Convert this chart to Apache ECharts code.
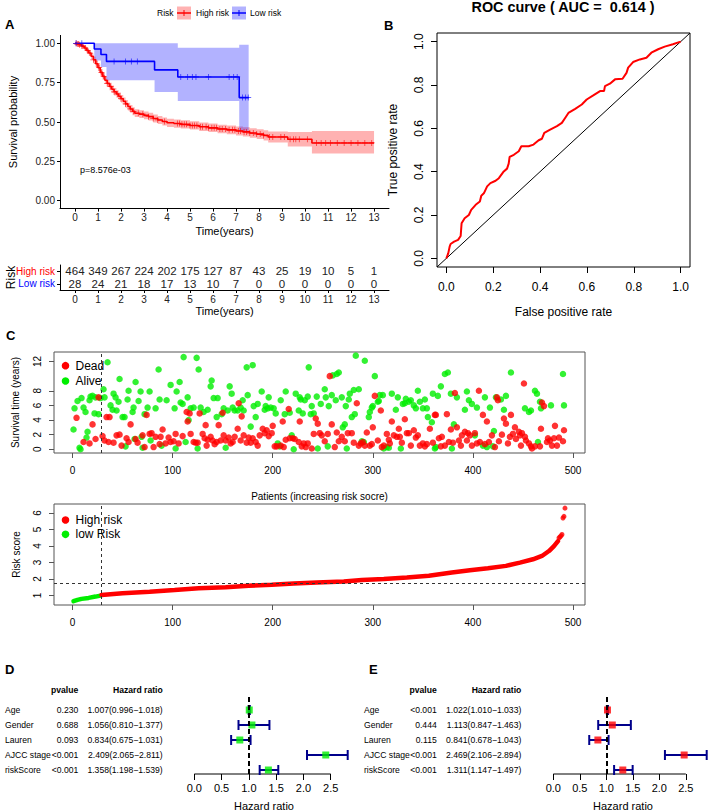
<!DOCTYPE html>
<html><head><meta charset="utf-8">
<script src="https://cdn.jsdelivr.net/npm/echarts@6/dist/echarts.min.js"></script>
<style>html,body{margin:0;padding:0;background:#fff}#c{width:709px;height:810px}</style>
</head><body><div id="c"></div>
<script>
// ---------- Panel A: Kaplan-Meier ----------
const kmYears = [0,1,2,3,4,5,6,7,8,9,10,11,12,13];
const survTicks = [0,0.25,0.5,0.75,1];
const riskGroups = ['Low risk','High risk'];
const highRiskAtRisk = [464,349,267,224,202,175,127,87,43,25,19,10,5,1];
const lowRiskAtRisk = [28,24,21,18,17,13,10,7,0,0,0,0,0,0];
const redT = [0,0.1,0.2,0.3,0.4,0.5,0.6,0.7,0.8,0.9,1.0,1.1,1.2,1.3,1.4,1.5,1.6,1.7,1.8,1.9,2.0,2.1,2.2,2.3,2.4,2.5,2.6,2.8,3.0,3.2,3.4,3.6,3.8,4.0,4.3,4.6,5.0,5.4,5.8,6.2,6.6,7.0,7.3,7.6,7.9,8.2,8.4,9.25,10.3];
const redS = [1.0,0.995,0.99,0.982,0.97,0.955,0.938,0.918,0.895,0.87,0.845,0.815,0.79,0.765,0.745,0.725,0.708,0.692,0.678,0.663,0.648,0.632,0.615,0.598,0.583,0.568,0.556,0.55,0.542,0.534,0.522,0.513,0.503,0.495,0.49,0.485,0.478,0.47,0.463,0.456,0.45,0.443,0.437,0.43,0.423,0.415,0.405,0.39,0.367];
const redUp = [1.0,1.0,0.998,0.993,0.983,0.97,0.954,0.936,0.914,0.89,0.866,0.837,0.812,0.788,0.768,0.749,0.732,0.716,0.702,0.687,0.672,0.656,0.64,0.623,0.608,0.593,0.581,0.575,0.567,0.559,0.547,0.538,0.529,0.521,0.516,0.511,0.504,0.497,0.49,0.483,0.478,0.471,0.466,0.46,0.454,0.448,0.44,0.436,0.443];
const redLo = [1.0,0.988,0.981,0.971,0.957,0.94,0.922,0.9,0.876,0.85,0.824,0.793,0.768,0.742,0.722,0.701,0.684,0.668,0.654,0.639,0.624,0.608,0.59,0.573,0.558,0.543,0.531,0.525,0.517,0.509,0.497,0.488,0.477,0.469,0.464,0.459,0.452,0.443,0.436,0.429,0.422,0.415,0.408,0.4,0.392,0.382,0.37,0.345,0.3];
const redEnd = 13;
const redCensor = [0.05,0.1,0.15,0.2,0.3,0.35,0.45,0.55,0.65,0.8,0.95,1.05,1.15,1.25,1.4,1.55,1.7,1.85,2.0,2.2,2.4,2.55,2.75,2.95,3.2,3.4,3.6,3.9,4.45,4.55,4.65,4.75,4.85,5.0,5.1,5.2,5.3,5.45,5.55,5.7,5.8,5.95,6.05,6.15,6.3,6.4,6.55,6.7,6.85,6.95,7.1,7.2,7.35,7.45,7.6,7.75,7.9,8.05,8.2,8.45,8.6,8.95,9.1,9.35,9.5,9.6,9.75,10.1,10.5,10.7,10.9,11.1,11.4,11.7,12.0,12.3,12.6,12.9];
const blueT = [0,0.84,1.13,1.37,3.46,4.47,7.14];
const blueS = [1.0,0.964,0.929,0.885,0.831,0.786,0.655];
const blueUp = [1.0,1.0,1.0,1.0,1.0,0.972,0.99];
const blueLo = [1.0,0.89,0.85,0.765,0.69,0.633,0.445];
const blueEnd = 7.55;
const blueCensor = [0.05,0.3,1.7,2.2,2.45,2.71,4.6,4.9,5.1,5.26,5.8,6.7,6.9,7.05,7.28,7.42,7.53];

// ---------- Panel B: ROC ----------
const rocTicks = [0,0.2,0.4,0.6,0.8,1.0];
const rocFPR = [0,0.008,0.014,0.018,0.033,0.05,0.061,0.065,0.078,0.096,0.106,0.125,0.143,0.149,0.16,0.174,0.188,0.21,0.224,0.245,0.259,0.266,0.27,0.288,0.309,0.32,0.351,0.372,0.394,0.408,0.418,0.443,0.472,0.493,0.507,0.521,0.55,0.578,0.599,0.627,0.656,0.673,0.677,0.698,0.72,0.752,0.769,0.776,0.797,0.826,0.854,0.875,0.904,0.932,0.967,1.0];
const rocTPR = [0,0.023,0.054,0.066,0.077,0.085,0.103,0.162,0.185,0.2,0.224,0.247,0.262,0.289,0.3,0.332,0.347,0.358,0.37,0.401,0.414,0.437,0.468,0.478,0.494,0.517,0.517,0.525,0.545,0.552,0.579,0.594,0.61,0.625,0.648,0.671,0.69,0.71,0.733,0.752,0.772,0.772,0.795,0.806,0.826,0.829,0.856,0.88,0.906,0.918,0.926,0.949,0.965,0.977,0.988,1.0];
const aucText = 'ROC curve ( AUC =  0.614 )';

// ---------- Panel C ----------
const patientTicks = [0,100,200,300,400,500];
const survTimeTicks = [0,2,4,6,8,12];
const riskScoreTicks = [1,2,3,4,5,6];
const lowHighCut = 28.5;
const riskCutoff = 1.76;
const deadPoints = [[4,4.3],[11,1.0],[17,0.8],[20,3.4],[23,1.4],[26,7.1],[30,1.8],[32,1.2],[34,4.4],[36,1.0],[37,4.4],[41,0.9],[44,1.9],[47,2.0],[49,0.5],[54,1.5],[56,1.0],[58,3.4],[63,1.4],[65,0.9],[70,1.9],[72,0.3],[74,4.7],[77,2.1],[79,2.2],[81,0.3],[83,1.7],[87,0.7],[88,1.7],[90,2.7],[93,0.8],[96,1.6],[98,1.0],[101,1.1],[103,2.1],[106,0.8],[110,1.8],[114,5.1],[115,3.8],[117,4.9],[118,2.1],[121,1.0],[123,0.9],[125,0.9],[127,4.9],[130,2.1],[132,1.5],[133,3.3],[134,0.5],[135,1.3],[138,1.7],[140,1.2],[142,0.7],[144,1.0],[146,3.3],[148,1.2],[150,5.0],[151,1.9],[153,1.2],[156,1.6],[158,0.8],[160,1.0],[162,1.7],[165,2.8],[166,6.3],[168,1.2],[169,4.5],[171,1.9],[174,0.9],[176,1.6],[178,0.9],[180,1.5],[183,1.0],[185,0.5],[187,1.9],[190,2.8],[192,2.2],[194,2.6],[196,1.8],[199,2.2],[200,3.2],[202,0.4],[204,0.4],[208,0.5],[210,3.8],[211,0.3],[213,1.3],[216,5.5],[217,1.5],[220,1.5],[222,1.4],[226,1.0],[227,3.8],[229,0.4],[231,0.8],[233,0.3],[235,0.8],[239,0.1],[241,2.1],[243,4.2],[245,3.5],[247,2.2],[249,1.9],[252,1.1],[255,2.1],[257,10.0],[259,3.4],[262,0.3],[264,2.3],[266,1.1],[269,1.7],[272,1.1],[275,2.2],[279,2.2],[281,0.9],[284,6.3],[286,0.5],[288,0.8],[290,1.0],[292,0.5],[294,2.3],[297,0.5],[299,0.7],[300,3.0],[302,7.3],[305,1.2],[308,5.3],[309,0.3],[311,0.5],[314,2.1],[316,1.3],[317,0.8],[319,3.8],[321,1.9],[324,1.7],[326,2.8],[327,1.7],[329,0.9],[332,4.1],[334,2.2],[336,2.2],[338,0.5],[341,2.6],[343,1.6],[345,1.9],[347,0.5],[350,0.8],[352,0.4],[354,0.7],[357,2.8],[360,0.9],[362,4.7],[363,4.7],[366,1.5],[368,0.4],[369,1.7],[372,0.5],[374,4.8],[376,1.0],[378,2.7],[380,0.9],[382,7.7],[384,3.0],[386,1.2],[388,0.5],[389,1.9],[392,2.4],[394,1.2],[395,2.2],[397,1.9],[399,0.5],[402,2.2],[404,0.8],[406,8.0],[407,1.0],[410,4.7],[412,0.7],[414,3.8],[416,1.0],[419,1.9],[422,0.3],[424,7.1],[425,6.7],[426,1.1],[429,2.0],[431,4.2],[433,3.5],[435,0.8],[437,1.7],[438,4.7],[440,2.1],[442,3.0],[443,1.4],[446,2.4],[447,1.9],[448,0.5],[449,2.2],[451,9.0],[452,1.7],[453,1.2],[456,0.8],[458,0.4],[459,0.1],[462,0.4],[467,0.4],[468,2.8],[469,6.4],[471,5.9],[474,1.0],[475,1.5],[477,1.2],[479,0.5],[481,1.5],[482,3.2],[484,0.5],[486,1.6],[490,1.1],[491,2.6]];
const alivePoints = [[1,2.7],[2,5.6],[5,6.6],[7,0.2],[8,0],[9,7.0],[11,5.7],[13,5.1],[14,1.6],[15,2.4],[17,6.7],[18,7.2],[20,7.3],[22,4.9],[23,7.1],[26,4.8],[28,7.0],[31,8.2],[32,7.1],[35,11.9],[38,6.0],[40,5.4],[41,7.6],[43,7.1],[44,5.3],[46,6.5],[47,9.6],[50,4.4],[52,4.4],[53,0.4],[55,6.8],[56,8.0],[60,5.1],[61,5.7],[62,1.4],[63,9.2],[66,6.6],[68,7.9],[69,1.7],[70,0.2],[72,4.8],[75,5.7],[77,7.9],[78,1.2],[83,5.6],[86,10.9],[87,6.8],[89,0.5],[94,6.7],[98,8.8],[102,5.6],[103,0.1],[104,7.9],[107,9.2],[108,6.4],[110,6.2],[111,12.6],[113,1.0],[115,7.1],[116,4.0],[118,5.6],[121,5.7],[124,12.5],[125,0.1],[126,10.9],[128,5.7],[131,5.1],[135,5.4],[138,8.6],[139,9.4],[141,7.0],[144,4.4],[145,7.0],[149,4.8],[151,5.6],[153,0.2],[155,5.3],[157,8.6],[159,7.6],[160,5.7],[162,5.3],[165,5.3],[168,5.7],[170,6.7],[171,5.3],[174,11.2],[175,7.4],[178,3.1],[180,11.5],[181,5.9],[183,4.4],[185,6.2],[189,7.9],[192,5.4],[193,5.9],[195,5.6],[196,7.1],[198,5.7],[201,5.6],[203,4.9],[205,0.8],[207,0.4],[208,6.7],[212,4.8],[213,7.9],[217,5.0],[219,1.9],[221,0],[223,7.6],[226,5.3],[227,7.1],[228,6.8],[230,4.9],[232,6.7],[235,7.2],[236,11.2],[238,4.8],[239,5.9],[241,4.9],[244,7.2],[245,0.1],[248,6.2],[252,8.2],[253,7.1],[255,0.4],[256,5.9],[259,7.4],[260,10.1],[263,6.7],[264,10.3],[266,10.5],[269,7.1],[270,3.0],[272,3.4],[273,5.9],[274,0.1],[276,6.8],[277,7.6],[279,4.4],[281,8.1],[282,4.8],[283,12.8],[286,8.2],[289,1.1],[291,1.0],[292,12.1],[296,4.4],[297,5.1],[299,5.7],[300,5.9],[302,10.0],[305,6.5],[306,6.6],[307,7.4],[310,7.4],[311,0.1],[314,0.3],[316,0.2],[319,7.6],[323,5.4],[325,7.1],[328,0.1],[330,6.2],[332,6.3],[333,6.9],[336,6.5],[338,6.7],[341,6.0],[343,5.6],[345,8.0],[347,6.5],[350,5.6],[352,6.8],[354,5.6],[355,4.4],[359,3.7],[360,7.6],[362,0.1],[363,0.3],[365,7.3],[368,8.6],[372,10.3],[375,10.5],[378,7.6],[379,0.1],[381,3.4],[384,7.1],[392,5.4],[394,7.9],[396,6.7],[399,6.2],[402,1.9],[404,5.7],[410,0.5],[412,7.1],[414,0.3],[417,5.7],[420,0.4],[421,2.5],[423,7.1],[428,6.8],[431,5.4],[433,7.3],[438,10.5],[452,5.6],[456,5.1],[458,5.3],[462,8.0],[464,7.6],[465,1.0],[467,6.5],[468,5.6],[478,6.0],[490,10.3],[491,6.0]];
const lowRiskScore = [[1,0.66],[5,0.74],[9,0.8],[16,0.86],[23,0.94],[28,1.0]];
const highRiskScore = [[29,1.03],[50,1.14],[77,1.24],[102,1.34],[126,1.44],[153,1.5],[176,1.6],[199,1.66],[221,1.74],[244,1.8],[271,1.86],[289,1.94],[311,2.0],[334,2.1],[356,2.2],[379,2.4],[397,2.54],[415,2.66],[433,2.8],[447,3.0],[460,3.2],[469,3.4],[476,3.7],[481,4.0],[485,4.3]];
const highRiskTop = [[486,4.5],[487,4.55],[488,4.62],[489,4.7],[490,5.7],[491,5.8],[492,6.3]];

// ---------- Panels D / E: forest ----------
const forestVars = ['Age','Gender','Lauren','AJCC stage','riskScore'];
const forestRows = [5,4,3,2,1];
const hrTicks = [0,0.5,1,1.5,2,2.5];
const uniP = ['0.230','0.688','0.093','<0.001','<0.001'];
const uniHR = [1.007,1.056,0.834,2.409,1.358];
const uniLow = [0.996,0.810,0.675,2.065,1.198];
const uniHigh = [1.018,1.377,1.031,2.811,1.539];
const multiP = ['<0.001','0.444','0.115','<0.001','<0.001'];
const multiHR = [1.022,1.113,0.841,2.469,1.311];
const multiLow = [1.010,0.847,0.678,2.106,1.147];
const multiHigh = [1.033,1.463,1.043,2.894,1.497];

// ================= build =================
const FF = "'Liberation Sans', Arial, Helvetica, sans-serif";
const RED = '#FF0000', GREEN = '#00EE00', BLUE = '#0000FF';
const chart = echarts.init(document.getElementById('c'), null, {renderer: 'svg', width: 709, height: 810});

function stepValue(T, S, t) { let v = S[0]; for (let i = 0; i < T.length; i++) if (T[i] <= t) v = S[i]; return v; }
function stepLine(T, S, end) { const d = T.map((t, i) => [t, S[i]]); d.push([end, S[S.length - 1]]); return d; }
function bandSeries(T, lo, hi, end, fill) {
  return {
    type: 'custom', xAxisIndex: 0, yAxisIndex: 0, silent: true, z: 1,
    data: [[0]],
    renderItem: function (params, api) {
      const pts = [];
      for (let i = 0; i < T.length; i++) {
        const t1 = i < T.length - 1 ? T[i + 1] : end;
        pts.push(api.coord([T[i], hi[i]]), api.coord([t1, hi[i]]));
      }
      for (let i = T.length - 1; i >= 0; i--) {
        const t1 = i < T.length - 1 ? T[i + 1] : end;
        pts.push(api.coord([t1, lo[i]]), api.coord([T[i], lo[i]]));
      }
      return {type: 'polygon', shape: {points: pts}, style: {fill: fill}};
    }
  };
}
const PLUS = 'path://M-1,-0.12H1V0.12H-1Z M-0.12,-1H0.12V1H-0.12Z';

function tableText(params, api) {
  const p = api.coord([api.value(0), api.value(1)]);
  return {type: 'text', x: p[0], y: p[1], style: {text: String(api.value(2)), align: 'center', verticalAlign: 'middle',
    fontSize: 11.5, fontFamily: FF, fill: '#222'}};
}
function ciRender(color) {
  return function (params, api) {
    const y = api.value(2);
    const a = api.coord([api.value(0), y]);
    const b = api.coord([api.value(1), y]);
    const st = {stroke: color, lineWidth: 2};
    return {type: 'group', children: [
      {type: 'line', shape: {x1: a[0], y1: a[1], x2: b[0], y2: b[1]}, style: st},
      {type: 'line', shape: {x1: a[0], y1: a[1] - 5, x2: a[0], y2: a[1] + 5}, style: st},
      {type: 'line', shape: {x1: b[0], y1: b[1] - 5, x2: b[0], y2: b[1] + 5}, style: st}
    ]};
  };
}
function axisLineRender(params, api) {
  const a = api.coord([api.value(0), 1]);
  const b = api.coord([api.value(1), 1]);
  const yb = params.coordSys.y + params.coordSys.height;
  return {type: 'line', shape: {x1: a[0], y1: yb, x2: b[0], y2: yb}, style: {stroke: '#000', lineWidth: 1}};
}
function hrText(hr, lo, hi) { return hr.map((h, i) => h.toFixed(3) + '(' + lo[i].toFixed(3) + '\u2212' + hi[i].toFixed(3) + ')'); }

function forestY(gridIndex, leftEdge, nameX, pX, hrX, pvals, hrs) {
  const base = {gridIndex: gridIndex, type: 'value', min: 0.7333, max: 5.8667, position: 'left',
    axisLine: {show: false, onZero: false}, axisTick: {show: false}, splitLine: {show: false}, nameMoveOverlap: false};
  const lab = (arr, align) => ({customValues: forestRows, margin: 0, align: align, fontSize: 8.6, color: '#000', fontFamily: FF,
    formatter: v => arr[forestRows.indexOf(v)]});
  return [
    Object.assign({}, base, {offset: leftEdge - nameX, axisLabel: lab(forestVars, 'left')}),
    Object.assign({}, base, {offset: leftEdge - pX, axisLabel: lab(pvals, 'right'), name: 'pvalue', nameLocation: 'end', nameGap: 3,
      nameTextStyle: {fontSize: 8.6, fontWeight: 'bold', align: 'right', verticalAlign: 'bottom', color: '#000', fontFamily: FF}}),
    Object.assign({}, base, {offset: leftEdge - hrX, axisLabel: lab(hrs, 'right'), name: 'Hazard ratio', nameLocation: 'end', nameGap: 3,
      nameTextStyle: {fontSize: 8.6, fontWeight: 'bold', align: 'right', verticalAlign: 'bottom', color: '#000', fontFamily: FF}})
  ];
}
function forestX(gridIndex, hi) {
  return {gridIndex: gridIndex, type: 'value', min: 0, max: Math.max.apply(null, hi), nameMoveOverlap: false,
    axisLine: {show: false, onZero: false}, splitLine: {show: false},
    axisTick: {show: true, customValues: hrTicks, length: 6, lineStyle: {color: '#000'}},
    axisLabel: {customValues: hrTicks, formatter: v => v.toFixed(1), fontSize: 11, color: '#000', margin: 8, fontFamily: FF},
    name: 'Hazard ratio', nameLocation: 'middle', nameGap: 26, nameTextStyle: {fontSize: 11, color: '#000', fontFamily: FF, padding: [0, 14, 0, 0]}};
}
function forestSeries(xi, yi, lo, hi, hr, color) {
  return [
    {type: 'custom', xAxisIndex: xi, yAxisIndex: yi, silent: true, data: [[0, 2.5]], renderItem: axisLineRender},
    {type: 'custom', xAxisIndex: xi, yAxisIndex: yi, silent: true, z: 3,
      data: forestRows.map((r, i) => [lo[i], hi[i], r]), renderItem: ciRender('#00008B')},
    {type: 'scatter', xAxisIndex: xi, yAxisIndex: yi, silent: true, z: 4, symbol: 'rect', symbolSize: 7,
      itemStyle: {color: color}, data: forestRows.map((r, i) => [hr[i], r]),
      markLine: {silent: true, symbol: ['none', 'none'], label: {show: false}, animation: false,
        lineStyle: {color: '#000', type: [5, 3], width: 2}, data: [{xAxis: 1}]}}
  ];
}
function dotLegend(x, y, color, text) {
  return [
    {type: 'circle', shape: {cx: x, cy: y, r: 3.8}, style: {fill: color}},
    {type: 'text', x: x + 10, y: y, style: {text: text, fontSize: 12, fontFamily: FF, fill: '#000', verticalAlign: 'middle'}}
  ];
}

const baseX = (g, min, max, extra) => Object.assign({gridIndex: g, type: 'value', min: min, max: max, splitLine: {show: false}, nameMoveOverlap: false}, extra);
const noLine = {show: false, onZero: false};
const blackLine = {show: true, onZero: false, lineStyle: {color: '#000'}};

const gridBase = {containLabel: false, outerBoundsMode: 'none'};
const option = {
  animation: false,
  textStyle: {fontFamily: FF},
  grid: [
    Object.assign({left: 60, top: 35.4, width: 329, height: 173.2}, gridBase),
    Object.assign({left: 60, top: 265, width: 329, height: 25}, gridBase),
    Object.assign({left: 437, top: 33, width: 253, height: 234, show: true, borderColor: '#000', borderWidth: 1, backgroundColor: 'transparent'}, gridBase),
    Object.assign({left: 54, top: 352, width: 531, height: 101, show: true, borderColor: '#555', borderWidth: 1, backgroundColor: 'transparent'}, gridBase),
    Object.assign({left: 54, top: 504, width: 531, height: 101, show: true, borderColor: '#555', borderWidth: 1, backgroundColor: 'transparent'}, gridBase),
    Object.assign({left: 194.3, top: 697, width: 153.4, height: 77}, gridBase),
    Object.assign({left: 553.3, top: 697, width: 153.4, height: 77}, gridBase)
  ],
  xAxis: [
    baseX(0, -0.65, 13.65, {axisLine: blackLine,
      axisTick: {show: true, customValues: kmYears, length: 3, lineStyle: {color: '#000'}},
      axisLabel: {customValues: kmYears, fontSize: 10, color: '#222', margin: 4, fontFamily: FF},
      name: 'Time(years)', nameLocation: 'middle', nameGap: 17, nameTextStyle: {fontSize: 11, color: '#000'}}),
    baseX(1, -0.65, 13.65, {axisLine: blackLine,
      axisTick: {show: true, customValues: kmYears, length: 3, lineStyle: {color: '#000'}},
      axisLabel: {customValues: kmYears, fontSize: 10, color: '#222', margin: 4, fontFamily: FF},
      name: 'Time(years)', nameLocation: 'middle', nameGap: 15, nameTextStyle: {fontSize: 11, color: '#000'}}),
    baseX(2, -0.04, 1.04, {axisLine: noLine,
      axisTick: {show: true, customValues: rocTicks, length: 6, lineStyle: {color: '#000'}},
      axisLabel: {customValues: rocTicks, formatter: v => v.toFixed(1), fontSize: 12, color: '#000', margin: 14, fontFamily: FF},
      name: 'False positive rate', nameLocation: 'middle', nameGap: 39, nameTextStyle: {fontSize: 12, color: '#000'}}),
    baseX(3, -18.5, 512, {axisLine: noLine,
      axisTick: {show: true, customValues: patientTicks, length: 5, lineStyle: {color: '#555'}},
      axisLabel: {customValues: patientTicks, fontSize: 10, color: '#000', margin: 12, fontFamily: FF},
      name: 'Patients (increasing risk socre)', nameLocation: 'middle', nameGap: 38, nameTextStyle: {fontSize: 10, color: '#000'}}),
    baseX(4, -18.5, 512, {axisLine: noLine,
      axisTick: {show: true, customValues: patientTicks, length: 5, lineStyle: {color: '#555'}},
      axisLabel: {customValues: patientTicks, fontSize: 10, color: '#000', margin: 12, fontFamily: FF}}),
    forestX(5, uniHigh),
    forestX(6, multiHigh)
  ],
  yAxis: [
    {gridIndex: 0, type: 'value', min: -0.05, max: 1.05, splitLine: {show: false}, nameMoveOverlap: false,
      axisLine: blackLine,
      axisTick: {show: true, customValues: survTicks, length: 3, lineStyle: {color: '#000'}},
      axisLabel: {customValues: survTicks, formatter: v => v.toFixed(2), fontSize: 10, color: '#222', margin: 5, fontFamily: FF},
      name: 'Survival probability', nameLocation: 'middle', nameGap: 42, nameTextStyle: {fontSize: 11, color: '#000'}},
    {gridIndex: 1, type: 'category', nameMoveOverlap: false,
      data: [{value: riskGroups[0], textStyle: {color: BLUE}}, {value: riskGroups[1], textStyle: {color: RED}}],
      axisLine: blackLine, axisTick: {show: true, alignWithLabel: true, interval: 0, length: 3, lineStyle: {color: '#000'}},
      axisLabel: {fontSize: 10, margin: 5, interval: 0, fontFamily: FF, hideOverlap: false},
      name: 'Risk', nameLocation: 'middle', nameGap: 43, nameTextStyle: {fontSize: 12, color: '#000'}},
    {gridIndex: 2, type: 'value', min: -0.04, max: 1.04, splitLine: {show: false}, nameMoveOverlap: false, axisLine: noLine,
      axisTick: {show: true, customValues: rocTicks, length: 6, lineStyle: {color: '#000'}},
      axisLabel: {customValues: rocTicks, formatter: v => v.toFixed(1), rotate: 90, fontSize: 12, color: '#000', margin: 12, fontFamily: FF},
      name: 'True positive rate', nameLocation: 'middle', nameGap: 38, nameTextStyle: {fontSize: 12, color: '#000'}},
    {gridIndex: 3, type: 'value', min: -0.51, max: 13.3, splitLine: {show: false}, nameMoveOverlap: false, axisLine: noLine,
      axisTick: {show: true, customValues: survTimeTicks, length: 5, lineStyle: {color: '#555'}},
      axisLabel: {customValues: survTimeTicks, rotate: 90, fontSize: 10, color: '#000', margin: 12, fontFamily: FF},
      name: 'Survival time (years)', nameLocation: 'middle', nameGap: 34, nameTextStyle: {fontSize: 10, color: '#000'}},
    {gridIndex: 4, type: 'value', min: 0.43, max: 6.55, splitLine: {show: false}, nameMoveOverlap: false, axisLine: noLine,
      axisTick: {show: true, customValues: riskScoreTicks, length: 5, lineStyle: {color: '#555'}},
      axisLabel: {customValues: riskScoreTicks, rotate: 90, fontSize: 10, color: '#000', margin: 12, fontFamily: FF},
      name: 'Risk score', nameLocation: 'middle', nameGap: 33, nameTextStyle: {fontSize: 10, color: '#000'}}
  ].concat(forestY(5, 194.3, 5, 78.3, 162.7, uniP, hrText(uniHR, uniLow, uniHigh)))
   .concat(forestY(6, 553.3, 364, 436.7, 521.3, multiP, hrText(multiHR, multiLow, multiHigh))),
  series: [
    bandSeries(redT, redLo, redUp, redEnd, 'rgba(255,0,0,0.3)'),
    bandSeries(blueT, blueLo, blueUp, blueEnd, 'rgba(0,0,255,0.3)'),
    {type: 'line', name: 'KM high', xAxisIndex: 0, yAxisIndex: 0, step: 'end', showSymbol: false, z: 3,
      lineStyle: {color: RED, width: 1.6}, itemStyle: {color: RED}, data: stepLine(redT, redS, redEnd)},
    {type: 'line', name: 'KM low', xAxisIndex: 0, yAxisIndex: 0, step: 'end', showSymbol: false, z: 3,
      lineStyle: {color: BLUE, width: 1.6}, itemStyle: {color: BLUE}, data: stepLine(blueT, blueS, blueEnd)},
    {type: 'scatter', name: 'KM high censor', xAxisIndex: 0, yAxisIndex: 0, symbol: PLUS, symbolSize: 6, z: 4,
      itemStyle: {color: RED}, data: redCensor.map(t => [t, stepValue(redT, redS, t)])},
    {type: 'scatter', name: 'KM low censor', xAxisIndex: 0, yAxisIndex: 0, symbol: PLUS, symbolSize: 6, z: 4,
      itemStyle: {color: BLUE}, data: blueCensor.map(t => [t, stepValue(blueT, blueS, t)])},
    {type: 'custom', name: 'table high', xAxisIndex: 1, yAxisIndex: 1, silent: true, renderItem: tableText,
      data: kmYears.map((t, i) => [t, 1, highRiskAtRisk[i]])},
    {type: 'custom', name: 'table low', xAxisIndex: 1, yAxisIndex: 1, silent: true, renderItem: tableText,
      data: kmYears.map((t, i) => [t, 0, lowRiskAtRisk[i]])},
    {type: 'line', name: 'diag', xAxisIndex: 2, yAxisIndex: 2, showSymbol: false, lineStyle: {color: '#000', width: 1},
      data: [[-0.04, -0.04], [1.04, 1.04]]},
    {type: 'line', name: 'ROC', xAxisIndex: 2, yAxisIndex: 2, showSymbol: false, lineStyle: {color: RED, width: 2},
      data: rocFPR.map((x, i) => [x, rocTPR[i]])},
    {type: 'scatter', name: 'Alive', xAxisIndex: 3, yAxisIndex: 3, symbolSize: 6.5, itemStyle: {color: GREEN}, data: alivePoints,
      markLine: {silent: true, symbol: ['none', 'none'], label: {show: false}, animation: false,
        lineStyle: {color: '#333', type: [3, 3], width: 1}, data: [{xAxis: lowHighCut}]}},
    {type: 'scatter', name: 'Dead', xAxisIndex: 3, yAxisIndex: 3, symbolSize: 6.5, itemStyle: {color: RED}, data: deadPoints},
    {type: 'line', name: 'low Risk', xAxisIndex: 4, yAxisIndex: 4, showSymbol: false, itemStyle: {color: GREEN},
      lineStyle: {color: GREEN, width: 4.5, cap: 'round'}, data: lowRiskScore,
      markLine: {silent: true, symbol: ['none', 'none'], label: {show: false}, animation: false,
        lineStyle: {color: '#333', type: [3, 3], width: 1}, data: [{xAxis: lowHighCut}, {yAxis: riskCutoff}]}},
    {type: 'line', name: 'High risk', xAxisIndex: 4, yAxisIndex: 4, showSymbol: false, itemStyle: {color: RED},
      lineStyle: {color: RED, width: 4.5, cap: 'round'}, data: highRiskScore},
    {type: 'scatter', name: 'High risk top', xAxisIndex: 4, yAxisIndex: 4, symbolSize: 5, itemStyle: {color: RED}, data: highRiskTop}
  ].concat(forestSeries(5, 5, uniLow, uniHigh, uniHR, GREEN))
   .concat(forestSeries(6, 8, multiLow, multiHigh, multiHR, RED)),
  graphic: [
    {type: 'text', x: 5, y: 24, style: {text: 'A', fontSize: 13, fontWeight: 'bold', fontFamily: FF, fill: '#000', verticalAlign: 'middle'}},
    {type: 'text', x: 384, y: 25, style: {text: 'B', fontSize: 13, fontWeight: 'bold', fontFamily: FF, fill: '#000', verticalAlign: 'middle'}},
    {type: 'text', x: 6, y: 335, style: {text: 'C', fontSize: 13, fontWeight: 'bold', fontFamily: FF, fill: '#000', verticalAlign: 'middle'}},
    {type: 'text', x: 5, y: 669, style: {text: 'D', fontSize: 13, fontWeight: 'bold', fontFamily: FF, fill: '#000', verticalAlign: 'middle'}},
    {type: 'text', x: 369, y: 669, style: {text: 'E', fontSize: 13, fontWeight: 'bold', fontFamily: FF, fill: '#000', verticalAlign: 'middle'}},
    {type: 'text', x: 563, y: 7, style: {text: aucText, fontSize: 14.4, fontWeight: 'bold', fontFamily: FF, fill: '#000', align: 'center', verticalAlign: 'middle'}},
    {type: 'text', x: 80, y: 170, style: {text: 'p=8.576e-03', fontSize: 9, fontFamily: FF, fill: '#000', verticalAlign: 'middle'}},
    {type: 'text', x: 157, y: 13, style: {text: 'Risk', fontSize: 8.5, fontFamily: FF, fill: '#000', verticalAlign: 'middle'}},
    {type: 'rect', shape: {x: 177, y: 6.5, width: 14, height: 13}, style: {fill: 'rgba(255,0,0,0.3)'}},
    {type: 'line', shape: {x1: 177, y1: 13, x2: 191, y2: 13}, style: {stroke: RED, lineWidth: 1.5}},
    {type: 'line', shape: {x1: 184, y1: 10, x2: 184, y2: 16}, style: {stroke: RED, lineWidth: 1}},
    {type: 'text', x: 196, y: 13, style: {text: 'High risk', fontSize: 8.5, fontFamily: FF, fill: '#000', verticalAlign: 'middle'}},
    {type: 'rect', shape: {x: 232, y: 6.5, width: 14, height: 13}, style: {fill: 'rgba(0,0,255,0.3)'}},
    {type: 'line', shape: {x1: 232, y1: 13, x2: 246, y2: 13}, style: {stroke: BLUE, lineWidth: 1.5}},
    {type: 'line', shape: {x1: 239, y1: 10, x2: 239, y2: 16}, style: {stroke: BLUE, lineWidth: 1}},
    {type: 'text', x: 250, y: 13, style: {text: 'Low risk', fontSize: 8.5, fontFamily: FF, fill: '#000', verticalAlign: 'middle'}}
  ].concat(dotLegend(65.5, 365.7, RED, 'Dead'), dotLegend(65.5, 381, GREEN, 'Alive'),
           dotLegend(65.5, 520, RED, 'High risk'), dotLegend(65.5, 534.3, GREEN, 'low Risk'))
};
chart.setOption(option);
</script></body></html>
